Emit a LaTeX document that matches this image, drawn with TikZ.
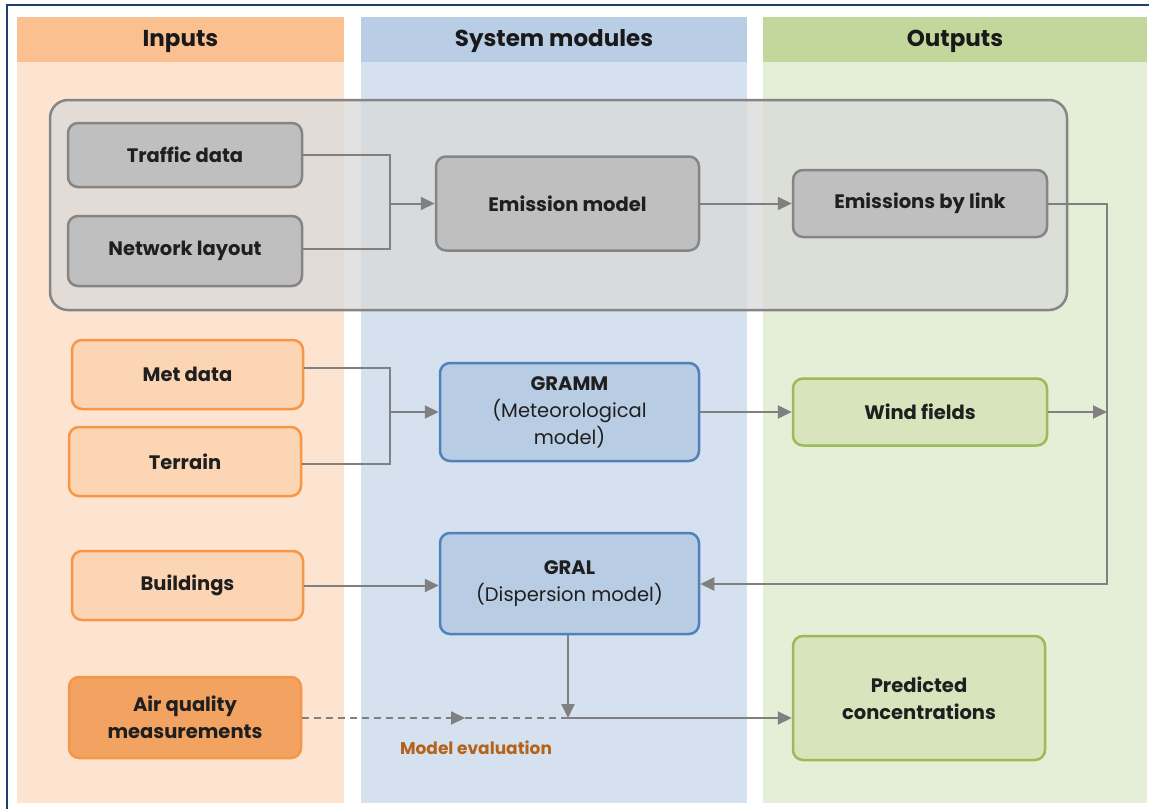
\documentclass[tikz,border=0pt]{standalone}
\usepackage{fontspec}
\setmainfont{Poppins}
\usetikzlibrary{arrows.meta,calc}
\definecolor{inhead}{HTML}{FAC090}
\definecolor{inbody}{HTML}{FDE4D1}
\definecolor{syshead}{HTML}{B9CDE5}
\definecolor{sysbody}{HTML}{D6E1EF}
\definecolor{outhead}{HTML}{C3D69B}
\definecolor{outbody}{HTML}{E5EED6}
\definecolor{groupfill}{HTML}{D9D9D9}
\definecolor{greyfill}{HTML}{BFBFBF}
\definecolor{greyline}{HTML}{858585}
\definecolor{orfill}{HTML}{FCD5B4}
\definecolor{orline}{HTML}{F79646}
\definecolor{ordark}{HTML}{F2A361}
\definecolor{blfill}{HTML}{B8CCE4}
\definecolor{blline}{HTML}{4F81BD}
\definecolor{grfill}{HTML}{D7E4BC}
\definecolor{grline}{HTML}{9BBB59}
\definecolor{conncol}{HTML}{808080}
\definecolor{evalcol}{HTML}{B5621A}
\definecolor{framecol}{HTML}{1F3F6E}
\tikzset{
  box/.style={rounded corners=10pt, line width=2.5pt, align=center, inner sep=2pt,
    font=\bfseries\fontsize{19.5}{27}\selectfont, text=black!88},
  greybox/.style={box, fill=greyfill, draw=greyline},
  orbox/.style={box, fill=orfill, draw=orline},
  ordbox/.style={box, fill=ordark, draw=orline},
  blbox/.style={box, fill=blfill, draw=blline},
  grbox/.style={box, fill=grfill, draw=grline},
  groupbox/.style={rounded corners=18pt, line width=2.5pt, draw=greyline, fill=groupfill, fill opacity=0.75},
  headtext/.style={font=\bfseries\fontsize{23}{26}\selectfont, text=black!90},
  conn/.style={draw=conncol, line width=2pt},
  arr/.style={conn, -{Triangle[length=14pt,width=13pt]}},
}
\begin{document}
\begin{tikzpicture}[x=1pt,y=-1pt]
\useasboundingbox (0,0) rectangle (1149,809);
\fill[white] (0,0) rectangle (1149,809);
\draw[framecol, line width=1.2pt] (7,809) -- (7,5) -- (1149,5);
% columns
\fill[inbody] (17,17) rectangle (344,803);
\fill[inhead] (17,17) rectangle (344,62);
\fill[sysbody] (361,17) rectangle (747,803);
\fill[syshead] (361,17) rectangle (747,62);
\fill[outbody] (763,17) rectangle (1147,803);
\fill[outhead] (763,17) rectangle (1147,62);
\node[headtext] (hin) at (180.5,41) {Inputs};
\node[headtext] (hsys) at (554,41) {System modules};
\node[headtext] (hout) at (955,41) {Outputs};
% group
\node[groupbox, minimum width=1017pt, minimum height=210pt] (group) at (558.5,205) {};
% nodes
\node[greybox, minimum width=234pt, minimum height=64pt] (traffic) at (185,155) {Traffic data};
\node[greybox, minimum width=234pt, minimum height=70pt] (network) at (185,251) {Network layout};
\node[greybox, minimum width=263pt, minimum height=94pt] (emission) at (567.5,203.5) {Emission model};
\node[greybox, minimum width=254pt, minimum height=67pt] (emlink) at (920,203.5) {Emissions by link};
\node[orbox, minimum width=231pt, minimum height=69pt] (met) at (187.5,374.5) {Met data};
\node[orbox, minimum width=232pt, minimum height=69pt] (terrain) at (185,461.5) {Terrain};
\node[blbox, minimum width=259pt, minimum height=98pt] (gramm) at (569.5,412) {GRAMM\\\mdseries (Meteorological\\\mdseries model)};
\node[grbox, minimum width=254pt, minimum height=67pt] (wind) at (920,412) {Wind fields};
\node[orbox, minimum width=231pt, minimum height=69pt] (buildings) at (187.5,585.5) {Buildings};
\node[blbox, minimum width=259pt, minimum height=101pt] (gral) at (569.5,583.5) {GRAL\\\mdseries (Dispersion model)};
\node[ordbox, minimum width=232pt, minimum height=81pt] (airq) at (185,717.5) {Air quality\\measurements};
\node[grbox, minimum width=252pt, minimum height=124pt] (pred) at (919,698) {Predicted\\concentrations};
% connectors
\coordinate (j1) at (390,203.5);
\draw[conn] (traffic.east) -| (j1) |- ([yshift=2pt]network.east);
\draw[arr] (j1) -- (emission.west);
\draw[arr] (emission.east) -- (emlink.west);
\coordinate (rx) at (1107,584);
\draw[arr] (emlink.east) -| (rx) -- (gral.east |- rx);
\draw[arr] (wind.east) -- (wind.east -| rx);
\coordinate (j2) at (390,412);
\draw[conn] ([yshift=7pt]met.east) -| (j2) |- ([yshift=-2.5pt]terrain.east);
\draw[arr] (j2) -- (gramm.west);
\draw[arr] (gramm.east) -- (wind.west);
\draw[arr] (buildings.east) -- (gral.west |- buildings.east);
\coordinate (j3) at (568,718);
\coordinate (mid) at (465,718);
\draw[arr] ([xshift=-1.5pt]gral.south) -- (j3);
\draw[conn, dashed, dash pattern=on 7pt off 5pt, -{Triangle[length=14pt,width=13pt]}] (airq.east |- j3) -- (mid);
\draw[conn, dashed, dash pattern=on 7pt off 5pt] (mid) -- (j3);
\draw[arr] (j3) -- (pred.west |- j3);
\node[font=\bfseries\fontsize{17}{20}\selectfont, text=evalcol] (evaltext) at (476,748) {Model evaluation};
\end{tikzpicture}
\end{document}
